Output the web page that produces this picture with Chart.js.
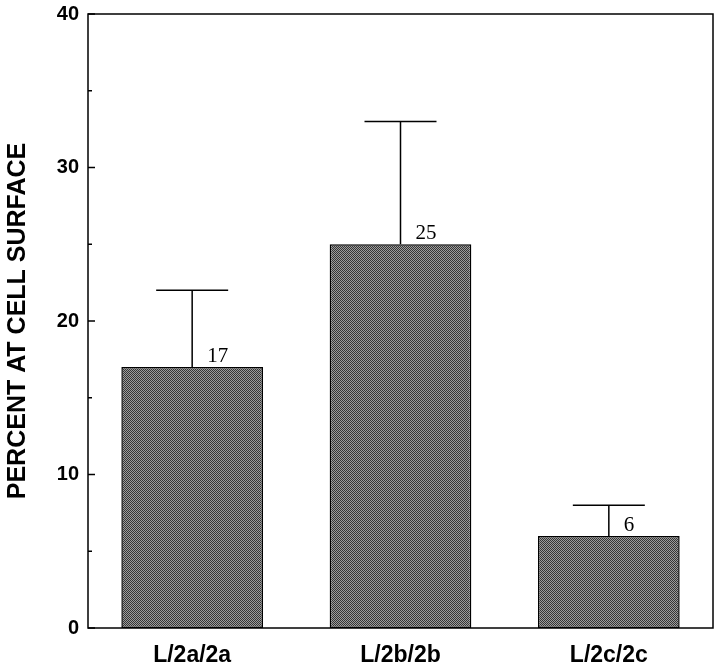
<!DOCTYPE html>
<html>
<head>
<meta charset="utf-8">
<script src="https://cdn.jsdelivr.net/npm/chart.js@4.4.0/dist/chart.umd.min.js"></script>
<style>
  html, body { margin: 0; padding: 0; background: #fff; }
  #wrap { width: 720px; height: 669px; }
</style>
</head>
<body>
<div id="wrap"><canvas id="myChart"></canvas></div>
<script>
const categories = ['L/2a/2a', 'L/2b/2b', 'L/2c/2c'];
const percentAtSurface = [17, 25, 6];
const errorUp = [5, 8, 2];
const yTicks = [0, 10, 20, 30, 40];
const yMinorTicks = [5, 15, 25, 35];

function makePattern() {
    const c = document.createElement('canvas');
    c.width = 2; c.height = 2;
    const g = c.getContext('2d');
    g.fillStyle = '#9c9c9c';
    g.fillRect(0, 0, 2, 2);
    g.fillStyle = '#353535';
    g.fillRect(0, 0, 1, 1);
    g.fillRect(1, 1, 1, 1);
    return g.createPattern(c, 'repeat');
}

// frame + inward tick marks
const frameTicks = {
    id: 'frameTicks',
    afterDraw(chart) {
        const ctx = chart.ctx;
        const a = chart.chartArea;
        const y = chart.scales.y;
        ctx.save();
        ctx.strokeStyle = '#000';
        ctx.lineWidth = 1.5;
        ctx.strokeRect(a.left, a.top, a.right - a.left, a.bottom - a.top);
        ctx.beginPath();
        yTicks.forEach(v => {
            const py = y.getPixelForValue(v);
            ctx.moveTo(a.left, py); ctx.lineTo(a.left + 7, py);
        });
        yMinorTicks.forEach(v => {
            const py = y.getPixelForValue(v);
            ctx.moveTo(a.left, py); ctx.lineTo(a.left + 4, py);
        });
        ctx.stroke();
        ctx.restore();
    }
};

// one-sided error bars and value labels
const errorBars = {
    id: 'errorBars',
    afterDatasetsDraw(chart) {
        const ctx = chart.ctx;
        const y = chart.scales.y;
        const meta = chart.getDatasetMeta(0);
        ctx.save();
        ctx.strokeStyle = '#000';
        ctx.lineWidth = 1.5;
        meta.data.forEach((bar, i) => {
            const top = y.getPixelForValue(percentAtSurface[i] + errorUp[i]);
            const x = bar.x;
            ctx.beginPath();
            ctx.moveTo(x, bar.y);
            ctx.lineTo(x, top);
            ctx.moveTo(x - 36, top);
            ctx.lineTo(x + 36, top);
            ctx.stroke();
            ctx.fillStyle = '#000';
            ctx.font = "21px 'Liberation Serif', 'Times New Roman', serif";
            ctx.textAlign = 'left';
            ctx.textBaseline = 'alphabetic';
            ctx.fillText(String(percentAtSurface[i]), x + 15, bar.y - 5);
        });
        ctx.restore();
    }
};

const ctx = document.getElementById('myChart');

new Chart(ctx, {
    type: 'bar',
    data: {
        labels: categories,
        datasets: [{
            label: 'Percent at cell surface',
            data: percentAtSurface,
            backgroundColor: makePattern(),
            borderColor: '#000',
            borderWidth: 1.5,
            borderSkipped: false,
            categoryPercentage: 1,
            barPercentage: 0.68
        }]
    },
    options: {
        responsive: true,
        maintainAspectRatio: false,
        animation: false,
        layout: { autoPadding: false, padding: { left: 0, top: 14, right: 7, bottom: 0 } },
        plugins: {
            legend: { display: false },
            tooltip: { enabled: false }
        },
        scales: {
            x: {
                grid: { display: false, drawTicks: false },
                border: { display: false },
                ticks: {
                    color: '#000',
                    padding: 14,
                    font: { family: "'Liberation Sans', Arial, sans-serif", size: 23, weight: 'bold' }
                },
                afterFit(scale) {
                    scale.height = 41;
                    scale.paddingLeft = 0;
                    scale.paddingRight = 0;
                }
            },
            y: {
                min: 0,
                max: 40,
                grid: { display: false, drawTicks: false },
                border: { display: false },
                ticks: {
                    stepSize: 10,
                    color: '#000',
                    padding: 9,
                    font: { family: "'Liberation Sans', Arial, sans-serif", size: 20, weight: 'bold' }
                },
                title: {
                    display: true,
                    text: 'PERCENT AT CELL SURFACE',
                    color: '#000',
                    padding: { top: 3, bottom: 10 },
                    font: { family: "'Liberation Sans', Arial, sans-serif", size: 25, weight: 'bold' }
                },
                afterFit(scale) {
                    scale.width = 88;
                    scale.paddingTop = 0;
                    scale.paddingBottom = 0;
                }
            }
        }
    },
    plugins: [frameTicks, errorBars]
});
</script>
</body>
</html>
